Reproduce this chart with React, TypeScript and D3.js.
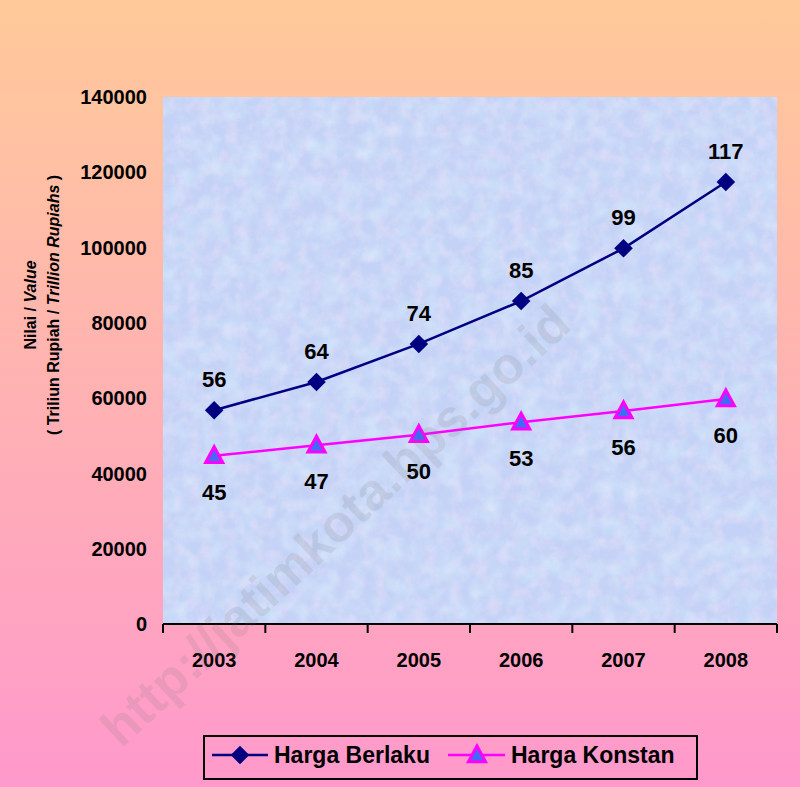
import React from 'react';
import * as d3 from 'd3';

// values (in billions of rupiah)
const years = ['2003', '2004', '2005', '2006', '2007', '2008'];
const hargaBerlaku = [56800, 64300, 74400, 85800, 99800, 117400];
const hargaKonstan = [44700, 47500, 50300, 53600, 56600, 59800];
const berlakuLabels = ['56', '64', '74', '85', '99', '117'];
const konstanLabels = ['45', '47', '50', '53', '56', '60'];
const yTicks = [0, 20000, 40000, 60000, 80000, 100000, 120000, 140000];

const W = 800;
const H = 787;
const plot = { left: 163, right: 777, top: 97, bottom: 624 };
const FONT = "Arial, 'Liberation Sans', sans-serif";

const App: React.FC = () => {
  const x = d3.scaleBand<string>().domain(years).range([plot.left, plot.right]);
  const y = d3.scaleLinear().domain([0, 140000]).range([plot.bottom, plot.top]);
  const cx = (yr: string) => (x(yr) ?? 0) + x.bandwidth() / 2;

  const line = d3.line<number>()
    .x((_, i) => cx(years[i]))
    .y(d => y(d));

  const diamond = d3.symbol().type(d3.symbolDiamond2).size(220)();
  const triangle = (s: number) => `M0,${-s}L${s * 0.95},${s * 0.75}L${-s * 0.95},${s * 0.75}Z`;

  const boundaries = [...years.map(yr => x(yr) ?? 0), plot.right];

  return (
    <>
      <style>{`body{margin:0}`}</style>
      <svg width={W} height={H} style={{ display: 'block', fontFamily: FONT }}>
        <defs>
          <linearGradient id="bg" x1="0" y1="0" x2="0" y2="1">
            <stop offset="0%" stopColor="#FFCA99" />
            <stop offset="100%" stopColor="#FF99CC" />
          </linearGradient>
          <filter id="tex" x="0" y="0" width="100%" height="100%">
            <feTurbulence type="fractalNoise" baseFrequency="0.08" numOctaves="3" seed="4" />
            <feColorMatrix type="matrix"
              values="0 0 0 0 0.93  0 0 0 0 0.78  0 0 0 0 0.95  1.4 0 0 0 -0.5" />
          </filter>
          <filter id="tex2" x="0" y="0" width="100%" height="100%">
            <feTurbulence type="fractalNoise" baseFrequency="0.05" numOctaves="2" seed="11" />
            <feColorMatrix type="matrix"
              values="0 0 0 0 0.70  0 0 0 0 0.92  0 0 0 0 1.0  1.4 0 0 0 -0.55" />
          </filter>
        </defs>
        <rect width={W} height={H} fill="url(#bg)" />

        {/* plot area */}
        <rect x={plot.left} y={plot.top} width={plot.right - plot.left} height={plot.bottom - plot.top} fill="#C3D2F6" />
        <rect x={plot.left} y={plot.top} width={plot.right - plot.left} height={plot.bottom - plot.top} filter="url(#tex)" opacity={0.6} />
        <rect x={plot.left} y={plot.top} width={plot.right - plot.left} height={plot.bottom - plot.top} filter="url(#tex2)" opacity={0.6} />

        {/* y ticks */}
        {yTicks.map(t => (
          <text key={t} x={147} y={y(t)} dy="0.36em" textAnchor="end" fontSize={20} fontWeight="bold">{t}</text>
        ))}

        {/* y title */}
        <g transform={`translate(30,305) rotate(-90)`}>
          <text textAnchor="middle" fontSize={16} fontWeight="bold" dy="0.35em">
            Nilai / <tspan fontStyle="italic">Value</tspan>
          </text>
        </g>
        <g transform={`translate(53,305) rotate(-90)`}>
          <text textAnchor="middle" fontSize={16} fontWeight="bold" dy="0.35em">
            ( Triliun Rupiah / <tspan fontStyle="italic">Trillion Rupiahs</tspan> )
          </text>
        </g>

        {/* x axis */}
        <line x1={plot.left} x2={plot.right} y1={plot.bottom} y2={plot.bottom} stroke="#000" strokeWidth={2} />
        {boundaries.map((b, i) => (
          <line key={i} x1={b} x2={b} y1={plot.bottom} y2={plot.bottom + 9} stroke="#000" strokeWidth={2} />
        ))}
        {years.map(yr => (
          <text key={yr} x={cx(yr)} y={660} dy="0.36em" textAnchor="middle" fontSize={20} fontWeight="bold">{yr}</text>
        ))}

        {/* series */}
        <path d={line(hargaBerlaku) ?? ''} fill="none" stroke="#000080" strokeWidth={2.5} />
        <path d={line(hargaKonstan) ?? ''} fill="none" stroke="#FF00FF" strokeWidth={2.5} />
        {hargaBerlaku.map((v, i) => (
          <path key={i} d={diamond ?? ''} transform={`translate(${cx(years[i])},${y(v)})`} fill="#000080" />
        ))}
        {hargaKonstan.map((v, i) => (
          <path key={i} d={triangle(9)} transform={`translate(${cx(years[i])},${y(v)})`} fill="#3F6BF5" stroke="#FF00FF" strokeWidth={3} strokeLinejoin="miter" />
        ))}
        {hargaBerlaku.map((v, i) => (
          <text key={i} x={cx(years[i])} y={y(v) - 31} dy="0.36em" textAnchor="middle" fontSize={22} fontWeight="bold">{berlakuLabels[i]}</text>
        ))}
        {hargaKonstan.map((v, i) => (
          <text key={i} x={cx(years[i])} y={y(v) + 36} dy="0.36em" textAnchor="middle" fontSize={22} fontWeight="bold">{konstanLabels[i]}</text>
        ))}

        {/* watermark */}
        <text x={335} y={525} transform="rotate(-43 335 525)" textAnchor="middle" dy="0.35em"
          fontSize={52} fontWeight="bold" fill="#7a7a7a" opacity={0.15}>
          http://jatimkota.bps.go.id
        </text>

        {/* legend */}
        <rect x={204} y={736} width={493} height={43} fill="none" stroke="#000" strokeWidth={2} />
        <line x1={212} x2={268} y1={755} y2={755} stroke="#000080" strokeWidth={2.5} />
        <path d={diamond ?? ''} transform="translate(240,755)" fill="#000080" />
        <text x={274} y={755} dy="0.36em" fontSize={23} fontWeight="bold">Harga Berlaku</text>
        <line x1={448} x2={505} y1={755} y2={755} stroke="#FF00FF" strokeWidth={2.5} />
        <path d={triangle(9)} transform="translate(477,755)" fill="#3F6BF5" stroke="#FF00FF" strokeWidth={3} />
        <text x={511} y={755} dy="0.36em" fontSize={23} fontWeight="bold">Harga Konstan</text>
      </svg>
    </>
  );
};

export default App;
